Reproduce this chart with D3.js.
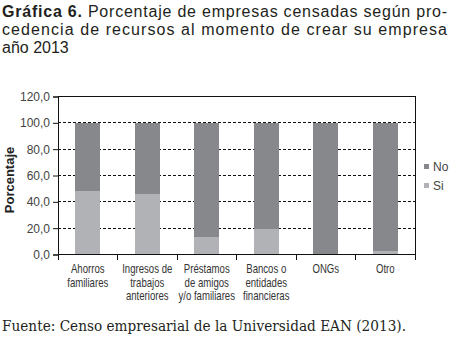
<!DOCTYPE html>
<html><head><meta charset="utf-8">
<script src="https://cdn.jsdelivr.net/npm/d3@7"></script>
<style>
body{margin:0;background:#fff;}
svg{display:block;}
</style></head>
<body>
<svg id="c" width="449" height="337"></svg>
<script>
const categories = [["Ahorros","familiares"],["Ingresos de","trabajos","anteriores"],["Préstamos","de amigos","y/o familiares"],["Bancos o","entidades","financieras"],["ONGs"],["Otro"]];
const siValues = [48.3, 45.8, 13.5, 19.5, 0, 2.5];
const noValues = siValues.map(v => 100 - v);
const yTicks = [0,20,40,60,80,100,120];
const seriesNames = ["No","Si"];
const colors = {No:"#87888c", Si:"#b1b2b5"};

const svg = d3.select("#c");
const sans = "'Liberation Sans',Arial,Helvetica,sans-serif";

// Title
const t = svg.append("g").attr("font-family", sans).attr("font-size", 16).attr("fill","#231f20");
const l1 = t.append("text").attr("x",2).attr("y",17).attr("textLength",445).attr("lengthAdjust","spacing");
l1.append("tspan").attr("font-weight","bold").text("Gráfica 6.");
l1.append("tspan").text(" Porcentaje de empresas censadas según pro-");
t.append("text").attr("x",2).attr("y",35).attr("textLength",445).attr("lengthAdjust","spacing").text("cedencia de recursos al momento de crear su empresa");
t.append("text").attr("x",2).attr("y",53).text("año 2013");

const m = {l:58, r:415, t:96.5, b:254.5};
const x = d3.scaleBand().domain(d3.range(categories.length)).range([m.l, m.r]).paddingInner(0.58).paddingOuter(0.29);
const xb = d3.scaleBand().domain(d3.range(categories.length)).range([m.l, m.r]);
const y = d3.scaleLinear().domain([0,120]).range([m.b, m.t]);

// gridlines
svg.append("g").selectAll("line").data(yTicks.filter(d=>d>0 && d<120)).join("line")
  .attr("x1",m.l).attr("x2",m.r).attr("y1",d=>y(d)).attr("y2",d=>y(d))
  .attr("stroke","#111").attr("stroke-width",1).attr("stroke-dasharray","3,2").attr("shape-rendering","crispEdges");

// bars
const stackData = categories.map((c,i)=>({i, Si:siValues[i], No:noValues[i]}));
const stacked = d3.stack().keys(["Si","No"])(stackData);
svg.append("g").selectAll("g").data(stacked).join("g").attr("fill", d=>colors[d.key])
  .selectAll("rect").data(d=>d).join("rect")
  .attr("x", d=>x(d.data.i)).attr("width", x.bandwidth())
  .attr("y", d=>y(d[1])).attr("height", d=>y(d[0])-y(d[1]))
  .attr("shape-rendering","crispEdges");

// frame top and right
svg.append("path").attr("d",`M${m.l},${m.t}H${m.r}V${m.b}`).attr("fill","none").attr("stroke","#111").attr("shape-rendering","crispEdges");

// y axis
const ya = svg.append("g").attr("transform",`translate(${m.l},0)`)
  .call(d3.axisLeft(y).tickValues(yTicks).tickSize(5).tickFormat(d=>d3.format(".1f")(d).replace(".",",")));
ya.select(".domain").attr("stroke","#111");
ya.selectAll(".tick line").attr("stroke","#111");
ya.selectAll("text").attr("font-family",sans).attr("font-size",12).attr("fill","#444").attr("x",-8);

// x axis
const xa = svg.append("g").attr("transform",`translate(0,${m.b})`);
xa.append("line").attr("x1",m.l).attr("x2",m.r).attr("stroke","#111").attr("shape-rendering","crispEdges");
xa.selectAll("line.tk").data(d3.range(categories.length+1)).join("line").attr("class","tk")
  .attr("x1",d=>d<categories.length?xb(d):m.r).attr("x2",d=>d<categories.length?xb(d):m.r)
  .attr("y1",0).attr("y2",5).attr("stroke","#111").attr("shape-rendering","crispEdges");
xa.selectAll("text").data(categories).join("text")
  .attr("font-family",sans).attr("font-size",12).attr("fill","#333").attr("text-anchor","middle")
  .attr("transform",(d,i)=>`translate(${xb(i)+xb.bandwidth()/2},0) scale(0.8,1)`)
  .selectAll("tspan").data(d=>d).join("tspan").attr("x",0).attr("y",(d,j)=>19+j*13.3).text(d=>d);

// y title
svg.append("text").attr("transform",`translate(13.5,180) rotate(-90)`).attr("text-anchor","middle")
  .attr("font-family",sans).attr("font-weight","bold").attr("font-size",13).attr("fill","#222").text("Porcentaje");

// legend
const lg = svg.append("g").selectAll("g").data(seriesNames).join("g").attr("transform",(d,i)=>`translate(424,${164+i*19})`);
lg.append("rect").attr("width",5).attr("height",5).attr("fill",d=>colors[d]);
lg.append("text").attr("x",9).attr("y",7).attr("font-family",sans).attr("font-size",12).attr("fill","#444").text(d=>d);

// source
const s = svg.append("text").attr("x",2).attr("y",331).attr("font-family","'DejaVu Serif','Liberation Serif',serif").attr("font-size",14).attr("fill","#231f20").attr("textLength",404).attr("lengthAdjust","spacingAndGlyphs");
s.append("tspan").text("Fuente:");
s.append("tspan").text(" Censo empresarial de la Universidad EAN (2013).");
</script>
</body></html>
